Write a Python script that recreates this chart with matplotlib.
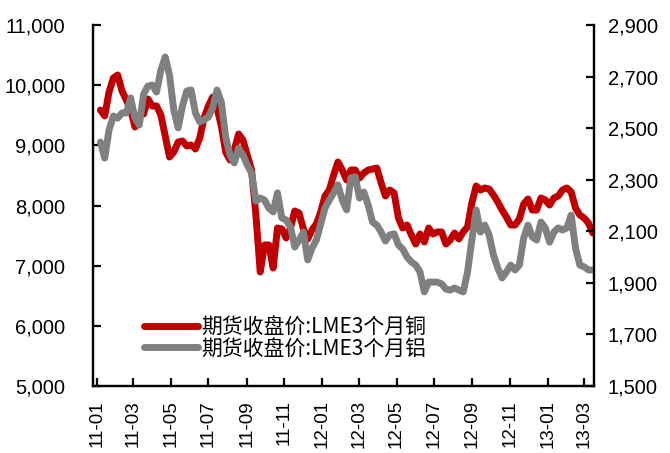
import matplotlib
matplotlib.use("Agg")
import matplotlib.pyplot as plt
import matplotlib.dates as mdates
from matplotlib.ticker import FuncFormatter, FixedLocator
import pandas as pd

# weekly observations (Fridays) from 2011-01-07
dates = pd.date_range(start="2011-01-07", periods=115, freq="7D")

copper = [9587, 9488, 9886, 10119, 10169, 9903, 9754, 9587, 9305, 9504,
          9521, 9770, 9654, 9654, 9504, 9155, 8806, 8889, 9055, 9072,
          8989, 9006, 8939, 9122, 9454, 9654, 9803, 9621, 9321, 8889,
          8756, 8922, 9188, 9089, 8839, 8590, 7842, 6895, 7344, 7344,
          6961, 7626, 7610, 7460, 7626, 7909, 7875, 7610, 7443, 7593,
          7693, 7892, 8158, 8258, 8507, 8723, 8590, 8424, 8590, 8590,
          8457, 8540, 8590, 8607, 8623, 8374, 8158, 8258, 8208, 7792,
          7626, 7676, 7510, 7360, 7527, 7394, 7626, 7527, 7560, 7560,
          7360, 7427, 7543, 7443, 7560, 7643, 8042, 8324, 8258, 8291,
          8274, 8175, 8058, 7925, 7809, 7676, 7676, 7776, 8025, 8108,
          7925, 7925, 8125, 8092, 8008, 8125, 8158, 8258, 8291, 8225,
          7959, 7842, 7792, 7709, 7543]

aluminium = [2446, 2384, 2493, 2547, 2539, 2559, 2559, 2617, 2539, 2512,
             2632, 2663, 2667, 2640, 2725, 2776, 2706, 2570, 2501, 2586,
             2644, 2648, 2559, 2524, 2532, 2543, 2578, 2648, 2601, 2466,
             2396, 2365, 2423, 2396, 2357, 2326, 2217, 2229, 2221, 2190,
             2175, 2249, 2152, 2144, 2117, 2039, 2066, 2097, 1989, 2035,
             2066, 2128, 2190, 2221, 2249, 2280, 2221, 2183, 2307, 2311,
             2229, 2252, 2202, 2136, 2124, 2097, 2062, 2086, 2090, 2047,
             2031, 2000, 1981, 1969, 1942, 1865, 1903, 1903, 1903, 1896,
             1876, 1872, 1880, 1872, 1865, 1942, 2066, 2183, 2097, 2124,
             2086, 2008, 1958, 1919, 1942, 1969, 1950, 1969, 2074, 2124,
             2078, 2066, 2136, 2113, 2058, 2097, 2113, 2105, 2113, 2163,
             2035, 1969, 1962, 1950, 1950]

label_cu = "期货收盘价:LME3个月铜"
label_al = "期货收盘价:LME3个月铝"

left_ticks = [5000, 6000, 7000, 8000, 9000, 10000, 11000]
right_ticks = [1500, 1700, 1900, 2100, 2300, 2500, 2700, 2900]

plt.rcParams["font.family"] = ["Liberation Sans", "DejaVu Sans"]

fig = plt.figure(figsize=(6.70, 4.53), dpi=100)
ax = fig.add_axes([0.1388, 0.1479, 0.8866 - 0.1388, 0.9448 - 0.1479])
ax2 = ax.twinx()

red = "#C00000"
gray = "#808080"
l1, = ax.plot(dates, copper, color=red, lw=5, solid_joinstyle="round",
              solid_capstyle="round")
l2, = ax2.plot(dates, aluminium, color=gray, lw=5, solid_joinstyle="round",
               solid_capstyle="round")

ax.set_xlim(pd.Timestamp("2010-12-26"), pd.Timestamp("2013-03-17"))
ax.set_ylim(5000, 11000)
ax2.set_ylim(1500, 2900)
ax.yaxis.set_major_locator(FixedLocator(left_ticks))
ax2.yaxis.set_major_locator(FixedLocator(right_ticks))
fmt = FuncFormatter(lambda v, p: f"{int(v):,}")
ax.yaxis.set_major_formatter(fmt)
ax2.yaxis.set_major_formatter(fmt)

ax.xaxis.set_major_locator(mdates.MonthLocator(bymonth=[1, 3, 5, 7, 9, 11]))
ax.xaxis.set_major_formatter(mdates.DateFormatter("%y-%m"))

for a in (ax, ax2):
    a.spines["top"].set_visible(False)
    for s in ("left", "right", "bottom"):
        a.spines[s].set_linewidth(1.6)
        a.spines[s].set_color("black")

ax.tick_params(axis="y", direction="in", length=6, width=1.6, labelsize=14.5,
               pad=20)
ax2.tick_params(axis="y", direction="in", length=6, width=1.6, labelsize=14.5,
                pad=10)
ax.tick_params(axis="x", direction="in", length=6, width=1.6, labelsize=13.5,
               pad=10, labelrotation=90)

leg = ax2.legend([l1, l2], [label_cu, label_al], loc="lower left",
                 bbox_to_anchor=(0.085, 0.05), frameon=False,
                 prop={"family": ["Noto Sans CJK SC", "DejaVu Sans"], "size": 15},
                 handlelength=2.6, handletextpad=0.15, labelspacing=-0.02,
                 borderaxespad=0.0)

fig.savefig("out.png", dpi=100)
